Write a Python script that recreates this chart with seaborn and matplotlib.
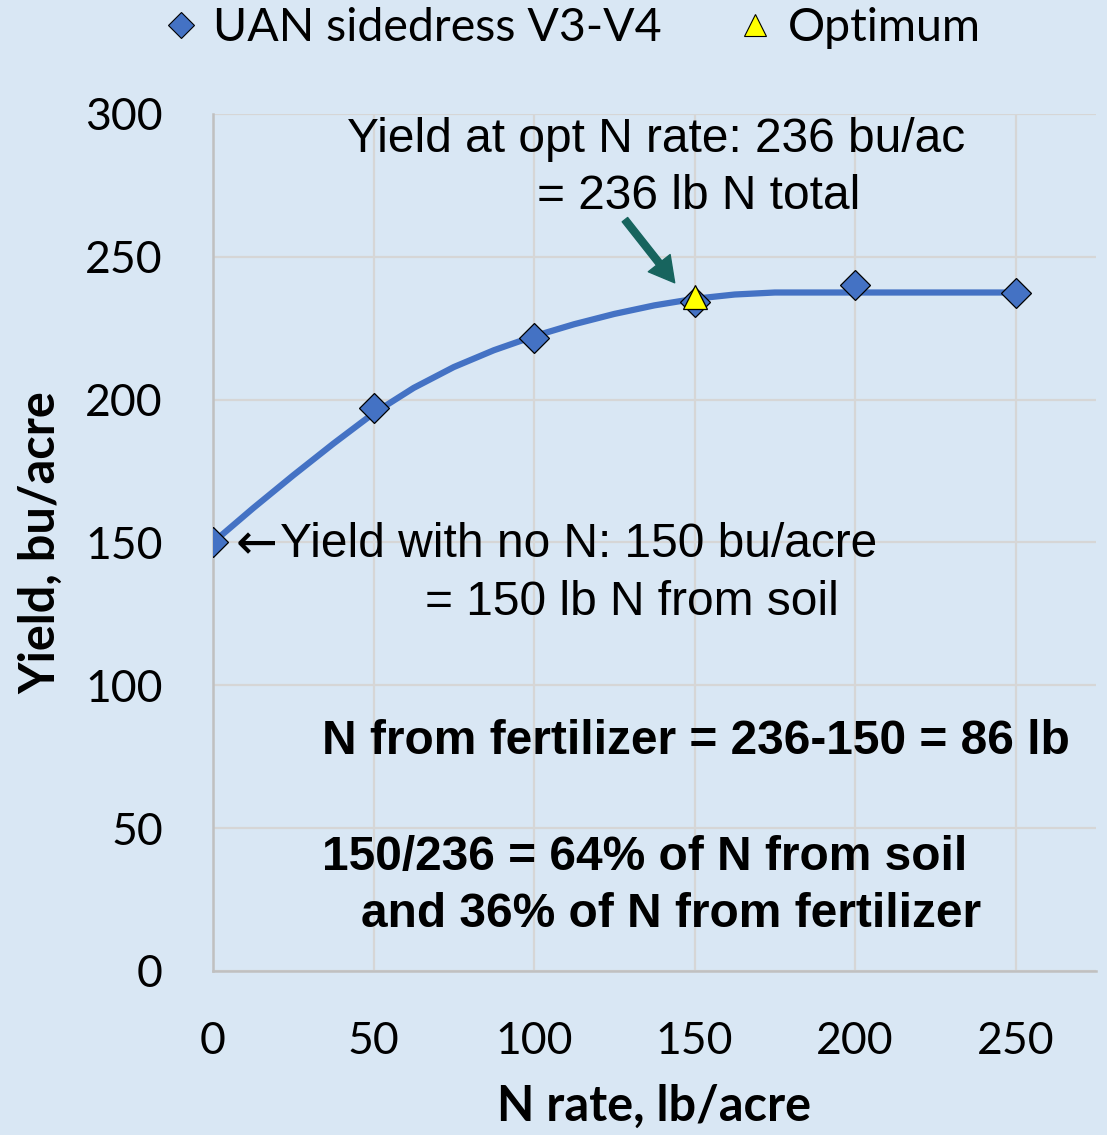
import matplotlib
matplotlib.use("Agg")
import matplotlib.pyplot as plt
import seaborn as sns
import pandas as pd
from matplotlib.lines import Line2D

# ---- data ----
n_rate = [0, 50, 100, 150, 200, 250]
yield_obs = [150, 197, 221.5, 234.3, 240, 237.5]
opt_n = [150]
opt_yield = [236]
curve_n = [0, 12.5, 25, 37.5, 50, 62.5, 75, 87.5, 100, 112.5, 125, 137.5,
           150, 162.5, 175, 200, 225, 250]
curve_yield = [150, 162, 173.5, 184.6, 195.2, 204.1, 211.4, 217.3, 222.2,
               226.4, 230.0, 233.0, 235.3, 236.8, 237.5, 237.5, 237.5, 237.5]
x_ticks = [0, 50, 100, 150, 200, 250]
y_ticks = [0, 50, 100, 150, 200, 250, 300]

BG = "#d9e7f4"
BLUE = "#4472C4"
CAL = ["Lato", "DejaVu Sans"]
ARIAL = ["Liberation Sans", "DejaVu Sans"]

sns.set_theme(style="whitegrid")
plt.rcParams["font.family"] = CAL
plt.rcParams["text.color"] = "black"
plt.rcParams["axes.labelcolor"] = "black"

fig = plt.figure(figsize=(11.07, 11.35), dpi=100, facecolor=BG)
ax = fig.add_axes([0.1924, 0.1445, 0.7976, 0.7551])
ax.set_facecolor(BG)

curve_df = pd.DataFrame({"N": curve_n, "Y": curve_yield})
obs_df = pd.DataFrame({"N": n_rate, "Y": yield_obs})
opt_df = pd.DataFrame({"N": opt_n, "Y": opt_yield})

sns.lineplot(data=curve_df, x="N", y="Y", ax=ax, color=BLUE, lw=4.5,
             zorder=3, legend=False, solid_joinstyle="round",
             solid_capstyle="round")
ax.plot(obs_df["N"], obs_df["Y"], ls="none", marker="D", ms=15,
        mfc=BLUE, mec="black", mew=0.9, zorder=4)
ax.plot(opt_df["N"], opt_df["Y"], ls="none", marker="^", ms=17,
        mfc="#ffff00", mec="black", mew=0.9, zorder=5)

ax.set_xlim(0, 275)
ax.set_ylim(0, 300)
ax.set_xticks(x_ticks)
ax.set_yticks(y_ticks)
ax.grid(True, color="#d6d6d6", lw=1.6)
for s in ["top", "right"]:
    ax.spines[s].set_visible(False)
for s in ["left", "bottom"]:
    ax.spines[s].set_color("#c0c0c0")
    ax.spines[s].set_linewidth(1.8)
ax.tick_params(axis="x", length=0, pad=36, labelsize=32, colors="black")
ax.tick_params(axis="y", length=0, pad=36, labelsize=32, colors="black")

ax.set_xlabel("N rate, lb/acre", fontsize=35, fontweight="bold", labelpad=16)
ax.set_ylabel("Yield, bu/acre", fontsize=35, fontweight="bold", labelpad=16)

# annotations
FS = 34.5
ax.text(41.7, 291, "Yield at opt N rate: 236 bu/ac", family=ARIAL, fontsize=FS,
        ha="left", va="center")
ax.text(100.9, 271, "= 236 lb N total", family=ARIAL, fontsize=FS,
        ha="left", va="center")
ax.annotate("", xy=(143.8, 240.9), xytext=(128.3, 263),
            arrowprops=dict(facecolor="#17645E", edgecolor="#17645E",
                            width=5, headwidth=20, headlength=18))
ax.text(7.0, 149.2, "\u2190", family=["DejaVu Sans"], fontsize=36,
        ha="left", va="center")
ax.text(20.9, 149.2, "Yield with no N: 150 bu/acre", family=ARIAL,
        fontsize=FS, ha="left", va="center")
ax.text(66, 128.9, "= 150 lb N from soil", family=ARIAL, fontsize=FS,
        ha="left", va="center")
ax.text(33.9, 80.2, "N from fertilizer = 236-150 = 86 lb", family=ARIAL,
        fontsize=FS, fontweight="bold", ha="left", va="center")
ax.text(33.9, 39.6, "150/236 = 64% of N from soil", family=ARIAL,
        fontsize=FS, fontweight="bold", ha="left", va="center")
ax.text(46.1, 19.6, "and 36% of N from fertilizer", family=ARIAL,
        fontsize=FS, fontweight="bold", ha="left", va="center")

handles = [
    Line2D([], [], ls="none", marker="D", ms=13.5, mfc=BLUE, mec="black",
           mew=0.8, label="UAN sidedress V3-V4"),
    Line2D([], [], ls="none", marker="^", ms=16, mfc="#ffff00", mec="black",
           mew=0.8, label="Optimum"),
]
fig.legend(handles=handles, loc="center", bbox_to_anchor=(0.514, 0.975),
           ncol=2, frameon=False, fontsize=33.5, handletextpad=0.2,
           columnspacing=1.5, handlelength=1.0)

fig.savefig("out.png", dpi=100, facecolor=BG)
